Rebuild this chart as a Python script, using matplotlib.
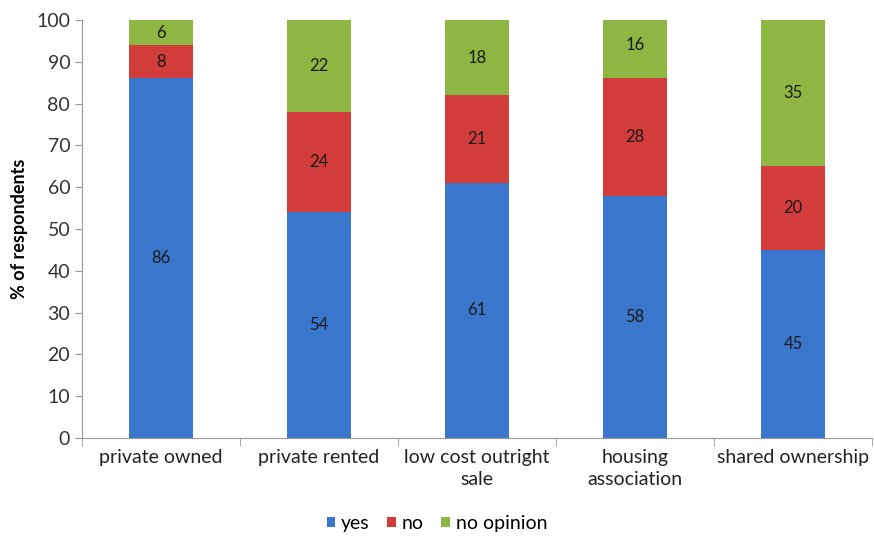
import matplotlib
matplotlib.use("Agg")
import matplotlib.pyplot as plt
import numpy as np

plt.rcParams['font.family'] = ['Lato', 'DejaVu Sans']

categories = ['private owned', 'private rented', 'low cost outright\nsale',
              'housing\nassociation', 'shared ownership']
yes_vals = [86, 54, 61, 58, 45]
no_vals = [8, 24, 21, 28, 20]
no_opinion_vals = [6, 22, 18, 16, 35]
series_names = ['yes', 'no', 'no opinion']
colors = ['#3a76cc', '#d23c3a', '#8db643']

fig = plt.figure(figsize=(8.74, 5.37), dpi=100)
ax = fig.add_axes([0.0938, 0.1844, 0.9042, 0.7784])

x = np.arange(len(categories))
width = 0.405
bottom = np.zeros(len(categories))
for name, vals, col in zip(series_names, [yes_vals, no_vals, no_opinion_vals], colors):
    ax.bar(x, vals, width, bottom=bottom, color=col, label=name,
           edgecolor='none', zorder=2)
    for xi, b, v in zip(x, bottom, vals):
        mid = b + v / 2
        if mid > 100:
            mid = (b + 100) / 2
        ax.text(xi, mid, str(v), ha='center', va='center', fontsize=12,
                color='#1a1a1a', zorder=3)
    bottom = bottom + np.array(vals)

ax.set_xlim(-0.5, len(categories) - 0.5)
ax.set_ylim(0, 100)
ax.set_yticks(range(0, 101, 10))
ax.tick_params(axis='y', labelsize=14, colors='#333333', length=5, color='#999999')
ax.set_xticks(x)
ax.set_xticklabels(categories, fontsize=14, linespacing=1.35)
ax.tick_params(axis='x', length=0, pad=8, colors='#222222')
ax.set_xticks(np.arange(-0.5, len(categories), 1), minor=True)
ax.tick_params(axis='x', which='minor', length=6, color='#999999')

for s in ['top', 'right']:
    ax.spines[s].set_visible(False)
for s in ['left', 'bottom']:
    ax.spines[s].set_color('#999999')

ax.set_ylabel('% of respondents', fontsize=13, fontweight='bold', labelpad=6)

fig.legend(loc='center', bbox_to_anchor=(0.5, 0.025), ncol=3, frameon=False,
           fontsize=14, handlelength=0.45, handleheight=0.45, handletextpad=0.3,
           columnspacing=0.9)

fig.savefig('out.png', dpi=100)
